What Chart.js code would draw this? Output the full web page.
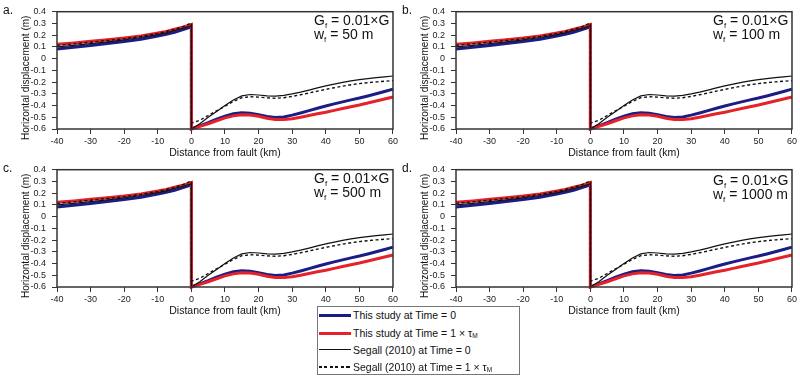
<!DOCTYPE html>
<html>
<head>
<meta charset="utf-8">
<script src="https://cdn.jsdelivr.net/npm/chart.js@4/dist/chart.umd.min.js"></script>
<style>
  html, body { margin: 0; padding: 0; background: #fff; }
  body { width: 800px; height: 378px; position: relative; overflow: hidden; font-family: "Liberation Sans", Arial, sans-serif; }
  canvas { position: absolute; }
  #legend { position: absolute; left: 317px; top: 306px; width: 203px; height: 69px; border: 1px solid #777; box-sizing: border-box; background: #fff; }
  .row { position: absolute; left: 0; height: 14px; width: 100%; font-size: 10.5px; color: #111; }
  .row .sw { position: absolute; left: 1px; width: 32px; top: 50%; }
  .row .tx { position: absolute; left: 35px; top: 0; line-height: 14px; white-space: nowrap; }
  .row sub { font-size: 6.5px; vertical-align: -1px; }
</style>
</head>
<body>
<canvas id="pa" width="400" height="165" style="left:0px;top:0px"></canvas>
<canvas id="pb" width="400" height="165" style="left:399px;top:0px"></canvas>
<canvas id="pc" width="400" height="165" style="left:0px;top:158px"></canvas>
<canvas id="pd" width="400" height="165" style="left:399px;top:158px"></canvas>
<div id="legend">
  <div class="row" style="top:1px"><div class="sw" style="border-top:3px solid #1a1d85;margin-top:-1.5px"></div><div class="tx">This study at Time = 0</div></div>
  <div class="row" style="top:19px"><div class="sw" style="border-top:3px solid #e5222a;margin-top:-1.5px"></div><div class="tx">This study at Time = 1 × τ<sub>M</sub></div></div>
  <div class="row" style="top:35.5px"><div class="sw" style="border-top:1.3px solid #111;margin-top:-0.6px"></div><div class="tx">Segall (2010) at Time = 0</div></div>
  <div class="row" style="top:53px"><div class="sw" style="height:1.5px;margin-top:-0.7px;background:repeating-linear-gradient(to right,#111 0,#111 3px,transparent 3px,transparent 5.5px)"></div><div class="tx">Segall (2010) at Time = 1 × τ<sub>M</sub></div></div>
</div>
<script>
// ---- data ----
const xLeft  = [-40, -35, -30, -25, -20, -15, -10, -7.5, -5, -2.5, 0];
const blueLeft  = [0.083, 0.097, 0.112, 0.128, 0.145, 0.166, 0.192, 0.207, 0.225, 0.247, 0.272];
const redLeft   = [0.122, 0.134, 0.148, 0.161, 0.175, 0.194, 0.218, 0.232, 0.250, 0.268, 0.290];
const solidLeft = [0.100, 0.113, 0.128, 0.143, 0.160, 0.180, 0.205, 0.220, 0.240, 0.258, 0.280];
const dashLeft  = [0.113, 0.126, 0.140, 0.155, 0.170, 0.190, 0.215, 0.231, 0.250, 0.272, 0.305];

const xRight = [0, 2.5, 5, 7.5, 10, 12.5, 15, 17.5, 20, 22.5, 25, 27.5, 30, 32.5, 35, 37.5, 40, 42.5, 45, 47.5, 50, 52.5, 55, 57.5, 60];
const blueRight  = [-0.600, -0.573, -0.545, -0.515, -0.490, -0.470, -0.462, -0.466, -0.478, -0.493, -0.502, -0.497, -0.482, -0.463, -0.443, -0.423, -0.404, -0.386, -0.369, -0.352, -0.336, -0.318, -0.299, -0.280, -0.260];
const redRight   = [-0.600, -0.578, -0.555, -0.530, -0.505, -0.488, -0.478, -0.480, -0.492, -0.508, -0.519, -0.520, -0.512, -0.500, -0.485, -0.470, -0.457, -0.441, -0.426, -0.410, -0.395, -0.378, -0.361, -0.344, -0.327];
const solidRight = [-0.600, -0.555, -0.500, -0.450, -0.400, -0.352, -0.318, -0.306, -0.310, -0.318, -0.320, -0.313, -0.300, -0.285, -0.268, -0.250, -0.232, -0.217, -0.203, -0.190, -0.179, -0.170, -0.162, -0.155, -0.148];
const dashRight  = [-0.550, -0.525, -0.485, -0.445, -0.405, -0.365, -0.333, -0.325, -0.328, -0.335, -0.338, -0.333, -0.322, -0.308, -0.293, -0.277, -0.262, -0.248, -0.235, -0.223, -0.213, -0.205, -0.198, -0.193, -0.188];

const xTicks = [-40, -30, -20, -10, 0, 10, 20, 30, 40, 50, 60];
const yTicks = [0.4, 0.3, 0.2, 0.1, 0, -0.1, -0.2, -0.3, -0.4, -0.5, -0.6];

const panelLabels = ['a.', 'b.', 'c.', 'd.'];
const faultWidths = ['50 m', '100 m', '500 m', '1000 m'];
const stiffnessText = '0.01×G';

const FONT = '"Liberation Sans", Arial, sans-serif';

function pts(xl, yl, xr, yr) {
  const out = [];
  xl.forEach((x, i) => out.push({ x: x, y: yl[i] }));
  xr.forEach((x, i) => out.push({ x: x, y: yr[i] }));
  return out;
}

const decorPlugin = {
  id: 'decor',
  afterDraw(chart, args, opts) {
    const ctx = chart.ctx;
    const a = chart.chartArea;
    ctx.save();
    ctx.strokeStyle = '#333';
    ctx.lineWidth = 1.5;
    ctx.strokeRect(a.left, a.top, a.right - a.left, a.bottom - a.top);
    ctx.fillStyle = '#111';
    ctx.font = '12px ' + FONT;
    ctx.textBaseline = 'alphabetic';
    ctx.textAlign = 'left';
    ctx.fillText(opts.label, 3, 13.5);
    ctx.save();
    ctx.translate(26, (a.top + a.bottom) / 2 + 7.5);
    ctx.rotate(-Math.PI / 2);
    ctx.textAlign = 'center';
    ctx.textBaseline = 'middle';
    ctx.font = '10px ' + FONT;
    ctx.fillStyle = '#111';
    ctx.fillText('Horizontal displacement (m)', 0, 0);
    ctx.restore();
    const tx = 314;
    const y1 = a.top + opts.annOff;
    const y2 = y1 + 14;
    function subLine(main, rest, y) {
      ctx.font = '14px ' + FONT;
      ctx.fillText(main, tx, y);
      let x = tx + ctx.measureText(main).width;
      ctx.font = '8px ' + FONT;
      ctx.fillText('f', x, y + 3);
      x += ctx.measureText('f').width;
      ctx.font = '14px ' + FONT;
      ctx.fillText(rest, x, y);
    }
    ctx.fillStyle = '#111';
    subLine('G', ' = ' + stiffnessText, y1);
    subLine('w', ' = ' + opts.w, y2);
    ctx.restore();
  }
};

function makePanel(id, idx) {
  const ctx = document.getElementById(id);
  return new Chart(ctx, {
    type: 'line',
    data: {
      datasets: [
        { label: 'Segall (2010) at Time = 0', data: pts(xLeft, solidLeft, xRight, solidRight), borderColor: '#111', borderWidth: 1.2, tension: 0, pointRadius: 0, clip: false },
        { label: 'Segall (2010) at Time = 1 × τM', data: pts(xLeft, dashLeft, xRight, dashRight), borderColor: '#111', borderWidth: 1.4, borderDash: [3, 2.5], tension: 0, pointRadius: 0, clip: false },
        { label: 'This study at Time = 1 × τM', data: pts(xLeft, redLeft, xRight, redRight), borderColor: '#e5222a', borderWidth: 3, tension: 0, pointRadius: 0, clip: false },
        { label: 'This study at Time = 0', data: pts(xLeft, blueLeft, xRight, blueRight), borderColor: '#1a1d85', borderWidth: 3, tension: 0, pointRadius: 0, clip: false }
      ]
    },
    options: {
      responsive: false,
      animation: false,
      devicePixelRatio: 1,
      layout: { padding: { left: 0, right: 6, top: 11.7, bottom: 0 } },
      plugins: {
        legend: { display: false },
        tooltip: { enabled: false },
        decor: { label: panelLabels[idx], w: faultWidths[idx], annOff: idx === 3 ? 15 : 13.5 }
      },
      scales: {
        x: {
          type: 'linear',
          min: -40, max: 60,
          afterFit(s) { s.height = 36; },
          afterBuildTicks(s) { s.ticks = xTicks.map(v => ({ value: v })); },
          ticks: { autoSkip: false, maxRotation: 0, padding: 2, color: '#222', font: { family: FONT, size: 9 }, callback: v => String(v) },
          grid: { display: true, drawOnChartArea: false, drawTicks: true, tickLength: 5, color: '#333', lineWidth: 1 },
          border: { display: false },
          title: { display: true, text: 'Distance from fault (km)', color: '#111', font: { family: FONT, size: 10.5 }, padding: { top: 0, bottom: 6 } }
        },
        y: {
          type: 'linear',
          min: -0.6, max: 0.4,
          afterFit(s) { s.width = 57; },
          afterBuildTicks(s) { s.ticks = yTicks.map(v => ({ value: v })); },
          ticks: { autoSkip: false, padding: 6, color: '#222', font: { family: FONT, size: 9 }, callback: v => String(Math.round(v * 10) / 10) },
          grid: { display: true, drawOnChartArea: false, drawTicks: true, tickLength: 5, color: '#333', lineWidth: 1 },
          border: { display: false }
        }
      }
    },
    plugins: [decorPlugin]
  });
}

['pa', 'pb', 'pc', 'pd'].forEach((id, i) => makePanel(id, i));
</script>
</body>
</html>
